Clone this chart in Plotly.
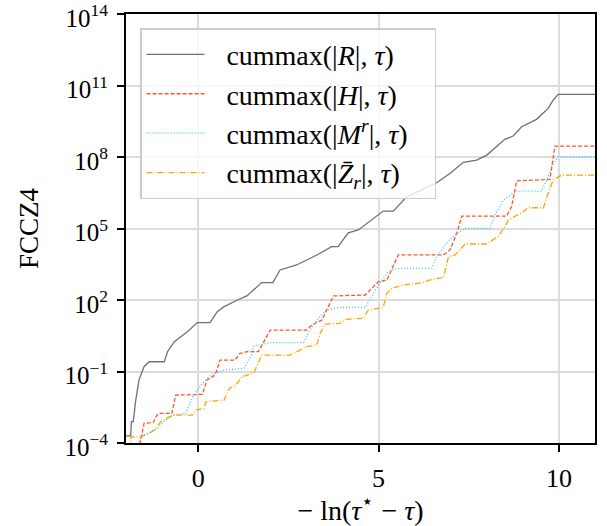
import plotly.graph_objects as go

# ---- data (y stored as log10 exponents) ----
r_x = [-2.0, -1.87, -1.85, -1.8, -1.73, -1.64, -1.5, -1.36, -0.94, -0.85, -0.66, -0.3, -0.02, 0.33,
       0.53, 0.72, 1.09, 1.35, 1.76, 2.07, 2.27, 2.73, 3.29, 3.70, 3.88, 4.16, 4.44, 5.13, 5.41,
       5.78, 6.61, 6.98, 7.35, 7.72, 8.0, 8.5, 8.73, 8.97, 9.38, 9.7, 9.84, 9.98, 11.0]
r_log10 = [-3.7, -3.7, -3.1, -3.1, -2.2, -1.36, -0.8, -0.59, -0.59, -0.17, 0.25, 0.67, 1.05, 1.05,
           1.51, 1.72, 2.0, 2.17, 2.73, 2.73, 3.26, 3.47, 3.89, 4.24, 4.24, 4.82, 4.94, 5.73, 5.73,
           6.33, 6.92, 7.31, 7.78, 7.87, 8.08, 8.74, 8.88, 9.27, 9.58, 10.04, 10.39, 10.63, 10.63]

h_x = [-1.65, -1.5, -1.24, -1.17, -1.1, -0.73, -0.62, 0.12, 0.24, 0.47, 0.61, 1.02, 1.16, 1.35, 1.67,
       2.0, 3.01, 3.15, 3.43, 3.56, 3.75, 4.63, 4.81, 5.0, 5.23, 5.55, 6.8, 6.98, 7.17, 7.31,
       8.55, 8.69, 8.83, 9.75, 9.89, 11.0]
h_log10 = [-4.3, -3.18, -3.13, -2.9, -2.76, -2.76, -1.99, -1.96, -1.36, -1.15, -0.52, -0.52, -0.24,
           -0.17, -0.17, 0.74, 0.74, 0.95, 1.16, 1.58, 2.17, 2.21, 2.49, 2.77, 2.84, 3.89, 3.89,
           4.1, 4.8, 5.52, 5.52, 5.92, 7.0, 7.06, 8.46, 8.46]

m_x = [-1.72, -1.59, -1.13, -0.94, -0.71, -0.34, -0.16, 0.12, 0.35, 0.72, 1.04, 1.27, 1.5, 1.53,
       2.0, 2.92, 3.1, 3.29, 3.56, 3.93, 4.63, 4.76, 5.0, 5.23, 5.5, 6.47, 6.61, 6.89, 7.12, 7.4,
       8.09, 8.23, 8.46, 8.83, 9.52, 9.66, 9.8, 9.98, 11.0]
m_log10 = [-4.3, -3.74, -3.39, -3.1, -2.83, -2.76, -2.06, -1.5, -1.15, -0.94, -0.9, -0.87, -0.24,
           0.07, 0.21, 0.21, 0.74, 1.16, 1.58, 1.69, 1.69, 2.0, 2.63, 3.12, 3.33, 3.33, 3.82, 4.38,
           4.73, 5.0, 5.0, 5.57, 6.19, 6.57, 6.57, 7.03, 7.59, 8.01, 8.01]

z_x = [-1.88, -1.86, -1.59, -1.36, -1.22, -1.03, -0.89, -0.66, -0.16, -0.06, 0.17, 0.21, 0.72,
       0.86, 1.04, 1.22, 1.55, 1.76, 2.55, 2.83, 3.01, 3.29, 3.38, 3.52, 3.93, 4.1, 4.58, 4.72,
       5.13, 5.23, 5.37, 5.69, 6.24, 6.43, 6.8, 6.94, 7.12, 7.4, 8.0, 8.31, 8.5, 8.6, 8.78, 9.01,
       9.15, 9.57, 9.7, 9.84, 10.07, 11.0]
z_log10 = [-4.3, -3.74, -3.74, -3.6, -3.46, -3.1, -2.97, -2.83, -2.83, -2.62, -2.55, -2.27, -2.2,
           -1.71, -1.57, -1.22, -1.05, -0.31, -0.31, -0.1, 0.04, 0.11, 0.6, 0.99, 1.02, 1.19, 1.23,
           1.58, 1.69, 2.28, 2.49, 2.63, 2.73, 2.84, 2.95, 3.82, 3.89, 4.35, 4.35, 4.66, 5.07, 5.36,
           5.5, 5.7, 5.87, 5.87, 6.48, 7.03, 7.24, 7.24]

names = ["cummax(|<i>R</i>|, <i>τ</i>)",
         "cummax(|<i>H</i>|, <i>τ</i>)",
         "cummax(|<i>M</i><sup><i>r</i></sup>|, <i>τ</i>)",
         "cummax(|<i>Z̄</i><sub><i>r</i></sub>|, <i>τ</i>)"]

y_tick_exps = [-4, -1, 2, 5, 8, 11, 14]
x_ticks = [0, 5, 10]

series = [(r_x, r_log10), (h_x, h_log10), (m_x, m_log10), (z_x, z_log10)]
styles = [dict(color="#707070", width=1.3, dash="solid"),
          dict(color="#ff5525", width=1.3, dash="4px,2px"),
          dict(color="#2ec4ff", width=1.3, dash="1px,2px"),
          dict(color="#ffa500", width=1.3, dash="6px,2px,1px,2px")]

FONT = "Liberation Serif"

fig = go.Figure()
for (xs, ls), nm, st in zip(series, names, styles):
    fig.add_trace(go.Scatter(x=xs, y=[10 ** v for v in ls], mode="lines",
                             name="\u2009\u2009\u2009" + nm + "\u00a0\u00a0\u00a0", line=st))

fig.update_layout(
    width=607, height=526,
    margin=dict(l=126, r=12, t=14, b=83),
    paper_bgcolor="white", plot_bgcolor="white",
    font=dict(family=FONT, size=25, color="black"),
    showlegend=True,
    legend=dict(x=0.03, y=0.967, xanchor="left", yanchor="top",
                bgcolor="rgba(255,255,255,0.8)", bordercolor="#cccccc", borderwidth=1.5,
                font=dict(family=FONT, size=28), itemwidth=58, tracegroupgap=0),
)
fig.update_xaxes(
    range=[-2.0, 11.0], tickvals=x_ticks, ticktext=[str(v) for v in x_ticks],
    showgrid=True, gridcolor="#dcdcdc", gridwidth=1.5,
    showline=True, linecolor="black", linewidth=2, mirror=True,
    ticks="outside", ticklen=7, tickwidth=2, tickcolor="black",
    zeroline=False, ticklabelstandoff=4, automargin=False,
    tickfont=dict(family=FONT, size=26),
    title=dict(text="− ln(<i>τ</i><sup>⋆</sup> − <i>τ</i>)", standoff=0,
               font=dict(family=FONT, size=28)),
)
fig.update_yaxes(
    type="log", range=[-4, 14],
    tickvals=[10.0 ** e for e in y_tick_exps],
    ticktext=["10<sup>%s</sup>" % (str(e).replace("-", "−")) for e in y_tick_exps],
    showgrid=True, gridcolor="#dcdcdc", gridwidth=1.5,
    showline=True, linecolor="black", linewidth=2, mirror=True,
    ticks="outside", ticklen=7, tickwidth=2, tickcolor="black",
    zeroline=False, ticklabelstandoff=4, ticklabelshift=4,
    ticklabeloverflow="allow", automargin=False,
    tickfont=dict(family=FONT, size=25),
    title=dict(text="FCCZ4", standoff=18, font=dict(family=FONT, size=27)),
)

fig.write_html("out.html")
